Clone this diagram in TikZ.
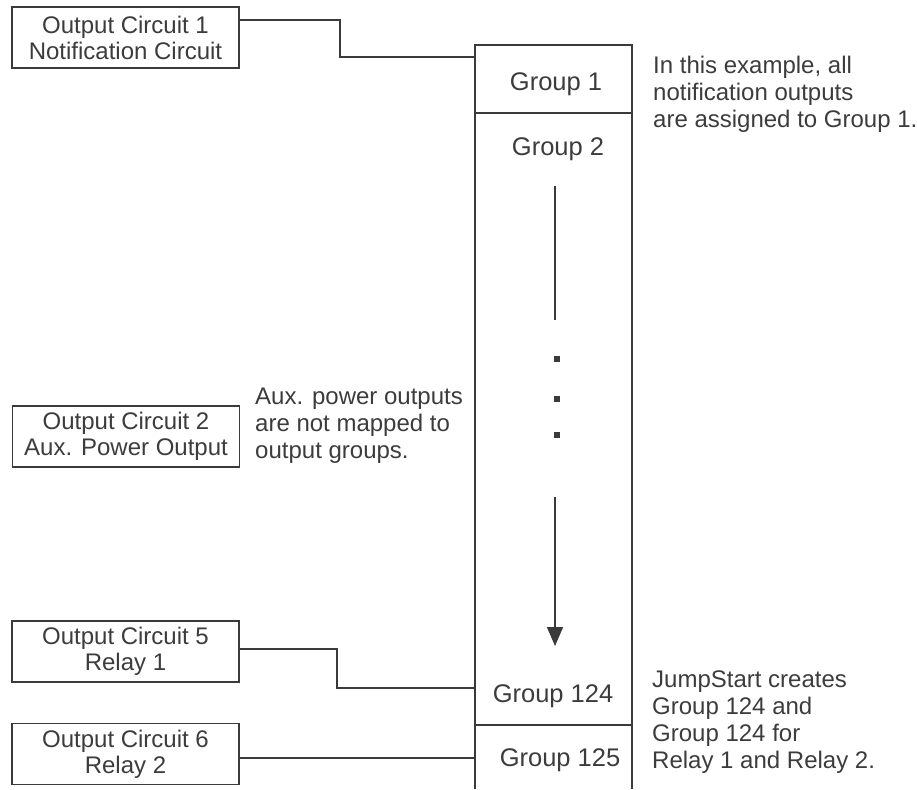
\documentclass[tikz,border=0pt]{standalone}
\usepackage{fontspec}
\setmainfont{Liberation Sans}
\usetikzlibrary{arrows.meta}
\definecolor{ink}{RGB}{58,58,58}
\definecolor{txt}{RGB}{60,60,60}
\tikzset{
  conn/.style={draw=ink, line width=1.6pt},
  outbox/.style={draw=ink, line width=1.6pt, minimum width=227pt, minimum height=61pt,
    inner sep=0pt, align=center, text=txt, font=\fontsize{24}{26}\selectfont},
  note/.style={anchor=base west, inner sep=0pt, align=left, text=txt,
    font=\fontsize{24}{27}\selectfont},
  grp/.style={anchor=base, inner sep=0pt, text=txt, font=\fontsize{25.5}{28}\selectfont},
  dotbox/.style={fill=ink, minimum size=6pt, inner sep=0pt}
}
\begin{document}
\begin{tikzpicture}[x=1pt, y=-1pt]
\useasboundingbox (0,0) rectangle (917,789);

% main column
\draw[conn] (475,789) -- (475,45) -- (632,45) -- (632,789);
\draw[conn] (475,113) -- (632,113);
\draw[conn] (475,725) -- (632,725);

\node[grp] (g1) at (556,91) {Group 1};
\node[grp] (g2) at (558,155) {Group 2};
\node[grp] (g124) at (553,702) {Group 124};
\node[grp] (g125) at (560,766) {Group 125};

% ellipsis and arrow
\coordinate (l1a) at (555,186);
\coordinate (l1b) at (555,320);
\draw[conn] (l1a) -- (l1b);
\node[dotbox] (d1) at (557,359) {};
\node[dotbox] (d2) at (557,399) {};
\node[dotbox] (d3) at (557,435) {};
\coordinate (l2a) at (555,497);
\coordinate (l2b) at (555,646);
\draw[conn, -{Triangle[length=19pt,width=16pt]}] (l2a) -- (l2b);

% output boxes
\node[outbox] (oc1) at (125.5,37.5) {Output Circuit 1\\Notification Circuit};
\node[outbox] (oc2) at (126,436.5) {Output Circuit 2\\Aux. Power Output};
\node[outbox] (oc5) at (125.5,651.5) {Output Circuit 5\\Relay 1};
\node[outbox] (oc6) at (125.5,754) {Output Circuit 6\\Relay 2};

% connector end points on the column
\coordinate (c1) at (475,57);
\coordinate (c124) at (475,688);
\coordinate (c125) at (475,758);

\draw[conn] ([yshift=17.5pt]oc1.east) -- ++(100,0) |- (c1);
\draw[conn] ([yshift=2.5pt]oc5.east) -- ++(97,0) |- (c124);
\draw[conn] ([yshift=-4pt]oc6.east) -- (c125);

% notes (base anchor = baseline of the last line)
\node[note] (n1) at (653,128) {In this example, all\\notification outputs\\are assigned to Group 1.};
\node[note] (n2) at (255,458) {Aux. power outputs\\are not mapped to\\output groups.};
\node[note] (n3) at (652,768) {JumpStart creates\\Group 124 and\\Group 124 for\\Relay 1 and Relay 2.};
\end{tikzpicture}
\end{document}
